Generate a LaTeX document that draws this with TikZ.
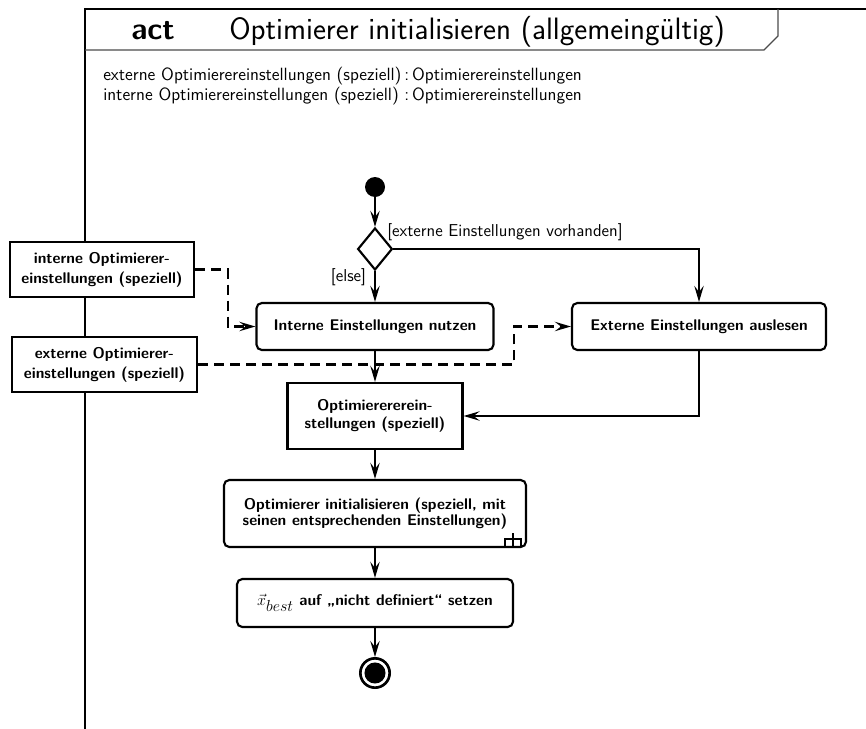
\documentclass[tikz,border=0pt]{standalone}
\usepackage{fontspec}
\usetikzlibrary{arrows.meta,shapes.geometric}
\begin{document}
\begin{tikzpicture}[x=0.75pt,y=-0.75pt,
  font=\sffamily,
  action/.style={draw, rounded corners=4pt, line width=1.6pt, fill=white, inner sep=0pt,
    align=center, font=\sffamily\bfseries\fontsize{11.6}{12.5}\selectfont},
  objnode/.style={draw, line width=1.6pt, fill=white, inner sep=0pt,
    align=center, font=\sffamily\bfseries\fontsize{11.6}{15}\selectfont},
  flow/.style={line width=1.6pt, -{Stealth[length=12pt,width=7pt,inset=4.5pt]}},
  objflow/.style={flow, dash pattern=on 7.5pt off 4.5pt},
  guard/.style={font=\sffamily\fontsize{12.9}{15}\selectfont, inner sep=0pt},
]
\useasboundingbox (0,0) rectangle (866,728);

% diagram frame and name tab
\draw[line width=1.9pt] (85,740) -- (85,9) -- (880,9);
\draw[line width=1pt, draw=black!70] (85,50) -- (764,50) -- (778,36) -- (778,9);
\node[anchor=base west, inner sep=0pt, font=\sffamily\bfseries\fontsize{23}{27}\selectfont] (kw) at (131,39.5) {act};
\node[anchor=base west, inner sep=0pt, font=\sffamily\fontsize{23.2}{27}\selectfont] (title) at (229,39.5) {Optimierer initialisieren (allgemeingültig)};

% parameters of the activity
\node[anchor=north west, inner sep=0pt, font=\sffamily\fontsize{13.3}{15}\selectfont] (params) at (103,66) {%
  \begin{tabular}{@{}l@{\,:\,}l@{}}
    externe Optimierereinstellungen (speziell) & Optimierereinstellungen\\
    interne Optimierereinstellungen (speziell) & Optimierereinstellungen
  \end{tabular}};

% object nodes on the left
\node[objnode, minimum width=138pt, minimum height=41.25pt] (intobj) at (102,269.5) {interne Optimierer-\\einstellungen (speziell)};
\node[objnode, minimum width=138.75pt, minimum height=41.25pt] (extobj) at (104.5,364.5) {externe Optimierer-\\einstellungen (speziell)};

% control flow nodes
\node[circle, fill, minimum size=15pt, inner sep=0pt] (start) at (375,187) {};
\node[diamond, draw, line width=1.6pt, fill=white, minimum width=26pt, minimum height=31.5pt, inner sep=0pt] (dec) at (375,249) {};
\node[action, minimum width=177.75pt, minimum height=35.25pt] (useint) at (375,326.5) {Interne Einstellungen nutzen};
\node[action, minimum width=190.5pt, minimum height=35.25pt] (readext) at (699,326.5) {Externe Einstellungen auslesen};
\node[objnode, minimum width=131.25pt, minimum height=49.5pt, font=\sffamily\bfseries\fontsize{11.6}{13}\selectfont] (settings) at (375,416) {Optimierererein-\\stellungen (speziell)};
\node[action, minimum width=226.5pt, minimum height=50.25pt] (initopt) at (375,513.5) {Optimierer initialisieren (speziell, mit\\seinen entsprechenden Einstellungen)};
\node[action, minimum width=207pt, minimum height=36pt] (reset) at (375,603) {{\fontsize{12.5}{14}\selectfont$\vec{x}_{\textstyle best}$} auf „nicht definiert“ setzen};
\node[circle, draw, line width=2pt, minimum size=22pt, inner sep=0pt] (final) at (375,673) {};
\fill (final.center) circle (7.9pt);

% call-behavior rake
\begin{scope}[shift={(initopt.south east)}]
  \draw[line width=1.3pt] (-22,-1) -- (-22,-9) -- (-6,-9) -- (-6,-1) (-14,-1) -- (-14,-15);
\end{scope}

% guards
\node[guard, anchor=west] (gext) at (387,232) {[externe Einstellungen vorhanden]};
\node[guard] (gelse) at (348.5,277) {[else]};

% control flows
\draw[flow] (start) -- (dec);
\draw[flow] (dec.east) -| (readext.north);
\draw[flow] (dec.south) -- (useint.north);
\draw[flow] (useint) -- (settings);
\draw[flow] (readext.south) |- (settings.east);
\draw[flow] (settings) -- (initopt);
\draw[flow] (initopt) -- (reset);
\draw[flow] (reset) -- (final);

% object flows
\coordinate (bendint) at (228,0);
\coordinate (bendext) at (514,0);
\draw[objflow] (intobj.east) -- (intobj.east -| bendint) |- (useint.west);
\draw[objflow] (extobj.east) -- (extobj.east -| bendext) |- (readext.west);
\end{tikzpicture}
\end{document}
